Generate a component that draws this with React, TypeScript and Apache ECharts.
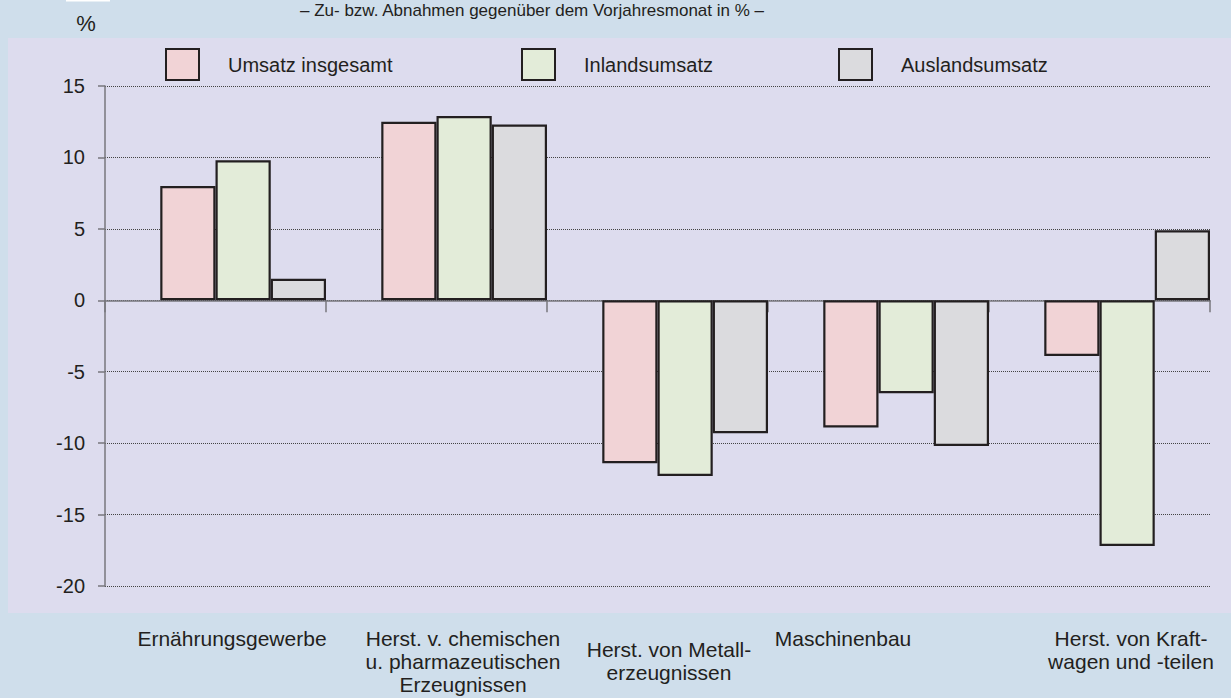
import React, { useEffect, useRef } from "react";
import * as echarts from "echarts";

const categories = [
  "Ernährungsgewerbe",
  "Herst. v. chemischen\nu. pharmazeutischen\nErzeugnissen",
  "Herst. von Metall-\nerzeugnissen",
  "Maschinenbau",
  "Herst. von Kraft-\nwagen und -teilen",
];
const umsatzInsgesamt = [8.0, 12.5, -11.4, -8.9, -3.9];
const inlandsumsatz = [9.8, 12.9, -12.3, -6.5, -17.2];
const auslandsumsatz = [1.5, 12.3, -9.3, -10.2, 4.9];
const seriesNames = ["Umsatz insgesamt", "Inlandsumsatz", "Auslandsumsatz"];
const yTicks = { min: -20, max: 15, interval: 5 };
const titleText = "– Zu- bzw. Abnahmen gegenüber dem Vorjahresmonat in % –";
const unitText = "%";

// layout constants (not data)
const labelX = [232, 463, 669, 843, 1131];
const labelY = [627, 627, 638, 627, 627];
const legendLeft = [165, 521, 838];

const FONT = "'Liberation Sans', Arial, Helvetica, sans-serif";
const INK = "#231f20";
const colors = ["#f1d3d6", "#e3ecd9", "#dbdbde"];

export default function App() {
  const ref = useRef<HTMLDivElement>(null);
  useEffect(() => {
    document.body.style.margin = "0";
    const chart = echarts.init(ref.current!, null, { renderer: "svg" });
    const values = [umsatzInsgesamt, inlandsumsatz, auslandsumsatz];
    const barSeries = values.map((vals, i) => ({
      name: seriesNames[i],
      type: "bar",
      data: vals,
      barGap: "0%",
      barCategoryGap: "0%",
      itemStyle: { color: colors[i], borderColor: INK, borderWidth: 2.2 },
      z: 3,
    }));
    chart.setOption({
      animation: false,
      backgroundColor: "#cfdeeb",
      title: {
        text: titleText,
        left: 300,
        top: 2,
        padding: 0,
        textStyle: { fontFamily: FONT, fontSize: 17, fontWeight: "normal", color: INK },
      },
      legend: seriesNames.map((n, i) => ({
        data: [n],
        left: legendLeft[i],
        top: 48,
        padding: 0,
        icon: "rect",
        itemWidth: 33,
        itemHeight: 31,
        selectedMode: false,
        itemStyle: { borderColor: INK, borderWidth: 2 },
        textStyle: { fontFamily: FONT, fontSize: 20, color: INK, padding: [0, 0, 0, 24] },
      })),
      grid: { left: 105, right: 21, top: 86, bottom: 112, containLabel: false },
      xAxis: {
        type: "category",
        data: categories,
        axisLine: { onZero: true, lineStyle: { color: "#77777d", width: 1.5 } },
        axisTick: { show: true, length: 12, lineStyle: { color: "#77777d", width: 1.5 } },
        axisLabel: { show: false },
        splitLine: { show: false },
      },
      yAxis: {
        type: "value",
        min: yTicks.min,
        max: yTicks.max,
        interval: yTicks.interval,
        axisLine: { show: true, lineStyle: { color: "#77777d", width: 1.5 } },
        axisTick: { show: true, length: 7, lineStyle: { color: "#77777d", width: 1.5 } },
        axisLabel: { margin: 20, fontFamily: FONT, fontSize: 20, color: INK },
        splitLine: { show: true, lineStyle: { color: "#444", width: 1, type: [1, 1] } },
      },
      graphic: [
        {
          type: "rect",
          z: -100,
          shape: { x: 8, y: 38, width: 1223, height: 575 },
          style: { fill: "#dddcee" },
        },
        {
          type: "rect",
          z: -99,
          shape: { x: 66, y: 0, width: 44, height: 1.5 },
          style: { fill: "#ffffff" },
        },
        {
          type: "text",
          x: 86,
          y: 23,
          style: {
            text: unitText,
            align: "center",
            verticalAlign: "middle",
            font: `22px ${FONT}`,
            fill: INK,
          },
        },
        ...categories.map((c, i) => ({
          type: "text",
          x: labelX[i],
          y: labelY[i],
          style: {
            text: c,
            align: "center",
            verticalAlign: "top",
            font: `21px ${FONT}`,
            lineHeight: 23,
            fill: INK,
          },
        })),
      ],
      series: [
        {
          name: "_spacer",
          type: "bar",
          data: categories.map(() => null),
          barGap: "0%",
          barCategoryGap: "0%",
          silent: true,
        },
        ...barSeries,
      ],
    });
    return () => chart.dispose();
  }, []);
  return <div ref={ref} style={{ width: 1231, height: 698 }} />;
}
